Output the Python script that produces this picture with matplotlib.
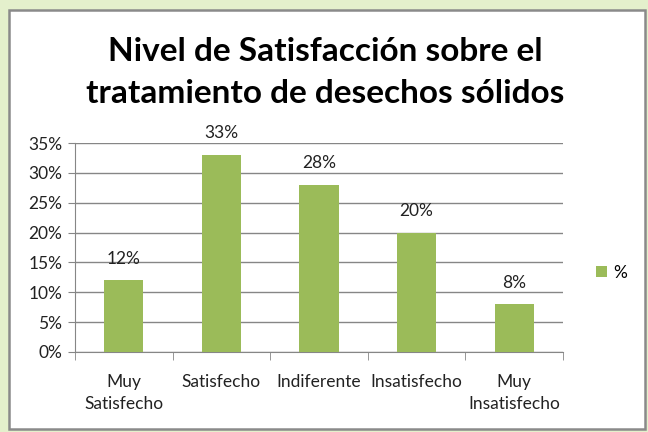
import matplotlib.pyplot as plt
from matplotlib.patches import Rectangle
from matplotlib.ticker import PercentFormatter

categorias = ["Muy\nSatisfecho", "Satisfecho", "Indiferente", "Insatisfecho", "Muy\nInsatisfecho"]
porcentajes = [12, 33, 28, 20, 8]
etiquetas = ["12%", "33%", "28%", "20%", "8%"]

plt.rcParams['font.family'] = ['Lato', 'DejaVu Sans']

fig = plt.figure(figsize=(6.48, 4.32), dpi=100, facecolor='#e4f0cc')
# white chart area with gray frame
fig.patches.append(Rectangle((9 / 648, 3 / 432), 636 / 648, 419 / 432, transform=fig.transFigure,
                             facecolor='white', edgecolor='#8a8a8a', linewidth=1.8, zorder=-5))

ax = fig.add_axes([75 / 648, 1 - 352 / 432, 488 / 648, 209 / 432])
ax.set_facecolor('white')

x = range(len(categorias))
bars = ax.bar(x, porcentajes, width=0.4, color='#9bbb59', zorder=3, label='%')
for b, t in zip(bars, etiquetas):
    ax.text(b.get_x() + b.get_width() / 2, b.get_height() + 3.6, t,
            ha='center', va='center', fontsize=12.5, color='#222222')

ax.set_ylim(0, 35)
ax.set_xlim(-0.5, 4.5)
ax.set_yticks(range(0, 36, 5))
ax.yaxis.set_major_formatter(PercentFormatter(decimals=0))
ax.grid(axis='y', color='#868686', linewidth=1, zorder=0)
ax.set_xticks(list(x))
ax.set_xticklabels(categorias, fontsize=12.5, color='#222222', linespacing=1.45)
ax.set_xticks([i + 0.5 for i in range(-1, 5)], minor=True)
ax.tick_params(axis='x', which='major', length=0, pad=16)
ax.tick_params(axis='x', which='minor', length=6, color='#868686')
ax.tick_params(axis='y', length=5, color='#868686', labelsize=12.5, labelcolor='#222222', pad=4)
for s in ['top', 'right']:
    ax.spines[s].set_visible(False)
ax.spines['left'].set_color('#868686')
ax.spines['bottom'].set_color('#868686')

fig.text(0.502, 0.832, "Nivel de Satisfacción sobre el\ntratamiento de desechos sólidos",
         ha='center', va='center', fontsize=24, fontweight='bold', linespacing=1.55)

ax.legend(loc='center left', bbox_to_anchor=(1.035, 0.38), frameon=False, fontsize=12.5,
          handlelength=0.65, handleheight=0.65, handletextpad=0.35)

fig.savefig('out.png', dpi=100, facecolor=fig.get_facecolor())
